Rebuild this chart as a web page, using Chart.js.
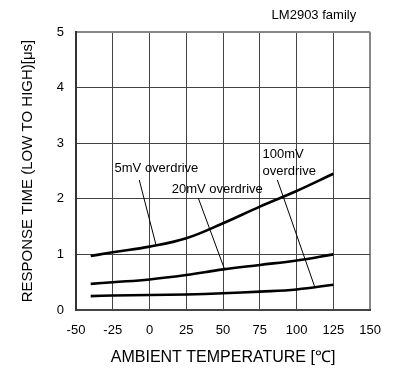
<!DOCTYPE html>
<html>
<head>
<meta charset="utf-8">
<script src="https://cdn.jsdelivr.net/npm/chart.js@4/dist/chart.umd.min.js"></script>
<style>
  html, body { margin: 0; padding: 0; background: #fff; }
  #wrap { width: 394px; height: 372px; position: relative; }
</style>
</head>
<body>
<div id="wrap"><canvas id="rtChart" width="394" height="372"></canvas></div>
<script>
'use strict';
var temps = [-40, -25, 0, 25, 50, 75, 100, 125];
var resp5mV = [0.97, 1.04, 1.14, 1.29, 1.56, 1.86, 2.14, 2.45];
var resp20mV = [0.47, 0.5, 0.55, 0.63, 0.73, 0.81, 0.89, 1.0];
var resp100mV = [0.25, 0.26, 0.27, 0.28, 0.30, 0.33, 0.37, 0.455];
var xTicks = [-50, -25, 0, 25, 50, 75, 100, 125, 150];
var yTicks = [0, 1, 2, 3, 4, 5];

// leader lines from label to curve: [x1, y1, x2, y2]
var leader5mV = [-7.0, 2.34, 4.4, 1.17];
var leader20mV = [33.2, 2.01, 50.7, 0.755];
var leader100mV = [86.9, 2.34, 112.4, 0.41];

// curve labels: text, x, y (data units)
var curveLabels = [
  ['5mV overdrive', -23.8, 2.55],
  ['20mV overdrive', 15.1, 2.16],
  ['100mV', 76.8, 2.79],
  ['overdrive', 76.8, 2.50]
];

function toPoints(xs, ys) {
  var pts = [];
  for (var i = 0; i < xs.length; i++) {
    pts.push({x: xs[i], y: ys[i]});
  }
  return pts;
}

function curveSet(values) {
  return {
    data: toPoints(temps, values),
    borderColor: '#000',
    borderWidth: 2.6,
    pointRadius: 0,
    tension: 0.4,
    fill: false
  };
}

function leaderSet(l) {
  return {
    data: [{x: l[0], y: l[1]}, {x: l[2], y: l[3]}],
    borderColor: '#000',
    borderWidth: 1,
    pointRadius: 0,
    fill: false
  };
}

var labelPlugin = {
  id: 'curveLabels',
  afterDatasetsDraw: function(chart) {
    var ctx = chart.ctx;
    var xs = chart.scales.x;
    var ys = chart.scales.y;
    ctx.save();
    ctx.font = '13px "Liberation Sans", Arial, sans-serif';
    ctx.fillStyle = '#000';
    ctx.textBaseline = 'middle';
    ctx.textAlign = 'left';
    for (var i = 0; i < curveLabels.length; i++) {
      var lb = curveLabels[i];
      ctx.fillText(lb[0], xs.getPixelForValue(lb[1]), ys.getPixelForValue(lb[2]));
    }
    ctx.textAlign = 'right';
    ctx.fillText('LM2903 family', xs.right - 14, 15);
    ctx.restore();
  }
};

var getChart = document.getElementById('rtChart').getContext('2d');
var rtChart = new Chart(getChart, {
  type: 'line',
  data: {
    datasets: [
      curveSet(resp5mV),
      curveSet(resp20mV),
      curveSet(resp100mV),
      leaderSet(leader5mV),
      leaderSet(leader20mV),
      leaderSet(leader100mV)
    ]
  },
  options: {
    responsive: false,
    animation: false,
    layout: { padding: { top: 32, right: 20, left: 0, bottom: 0 } },
    plugins: {
      legend: { display: false },
      tooltip: { enabled: false }
    },
    scales: {
      x: {
        type: 'linear',
        min: -50,
        max: 150,
        afterBuildTicks: function(scale) {
          scale.ticks = xTicks.map(function(v) { return {value: v}; });
        },
        afterFit: function(scale) { scale.height = 62; },
        grid: {
          drawTicks: false,
          color: function(c) { return c.tick && c.tick.value === 150 ? '#888' : '#444'; },
          lineWidth: function(c) { return c.tick && c.tick.value === 150 ? 2 : 1; }
        },
        border: { color: '#444', width: 2 },
        ticks: {
          padding: 13,
          color: '#000',
          maxRotation: 0,
          font: { family: '"Liberation Sans", Arial, sans-serif', size: 13 }
        },
        title: {
          display: true,
          text: 'AMBIENT TEMPERATURE [℃]',
          color: '#000',
          padding: { top: 0, bottom: 5 },
          font: { family: '"Liberation Sans", Arial, sans-serif', size: 16 }
        }
      },
      y: {
        min: 0,
        max: 5,
        afterBuildTicks: function(scale) {
          scale.ticks = yTicks.map(function(v) { return {value: v}; });
        },
        afterFit: function(scale) { scale.width = 76; },
        grid: {
          drawTicks: false,
          color: function(c) { return c.tick && c.tick.value === 5 ? '#888' : '#444'; },
          lineWidth: function(c) { return c.tick && c.tick.value === 5 ? 2 : 1; }
        },
        border: { color: '#333', width: 2 },
        ticks: {
          padding: 12,
          color: '#000',
          font: { family: '"Liberation Sans", Arial, sans-serif', size: 13 }
        },
        title: {
          display: true,
          text: 'RESPONSE TIME (LOW TO HIGH)[μs]',
          color: '#000',
          padding: { top: 19, bottom: 0 },
          font: { family: '"Liberation Sans", Arial, sans-serif', size: 15 }
        }
      }
    }
  },
  plugins: [labelPlugin]
});
</script>
</body>
</html>
